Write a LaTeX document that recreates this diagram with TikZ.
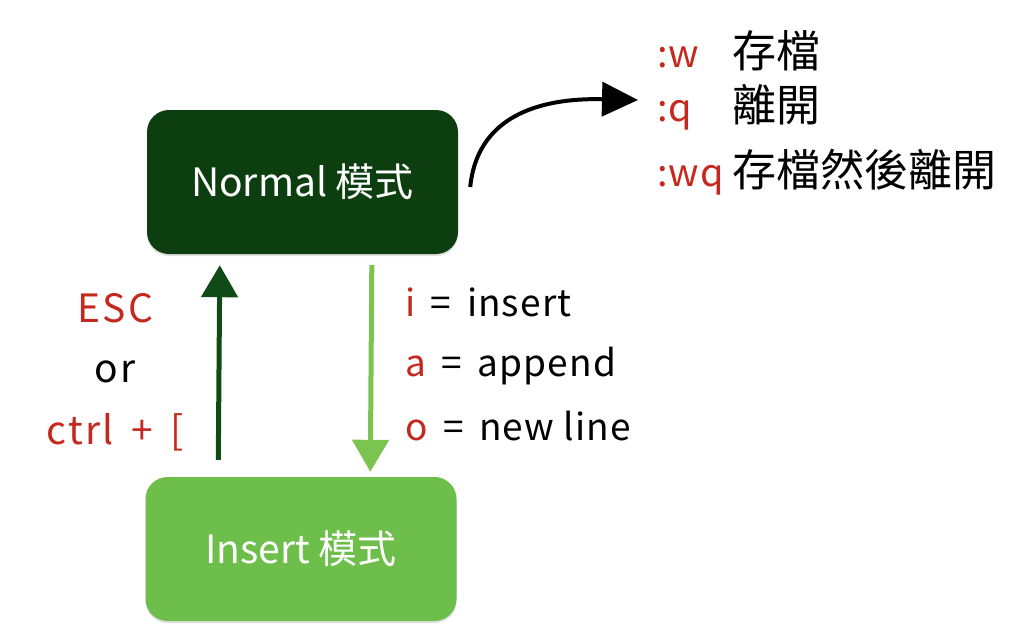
\documentclass[tikz,border=0pt]{standalone}
\usepackage{fontspec}
\setmainfont{Noto Sans CJK TC}
\newfontfamily\spaced{Noto Sans CJK TC}[LetterSpace=6]
\newfontfamily\slight{Noto Sans CJK TC}[LetterSpace=3]
\usetikzlibrary{arrows.meta,shadows,calc}
\definecolor{ngreen}{RGB}{12,62,16}
\definecolor{igreen}{RGB}{110,190,75}
\definecolor{upgreen}{RGB}{16,74,22}
\definecolor{downgreen}{RGB}{124,196,80}
\definecolor{cmdred}{RGB}{196,40,30}
\tikzset{
  modebox/.style={rounded corners=22pt, minimum width=311pt, minimum height=144pt,
    text=white, font=\fontsize{39}{42}\selectfont, inner sep=0pt,
    drop shadow={shadow xshift=0pt, shadow yshift=-2pt, opacity=0.25, fill=gray}},
  lbl/.style={font=\spaced\fontsize{39}{44}\selectfont, inner sep=0pt},
  rlbl/.style={font=\slight\fontsize{37}{44}\selectfont, inner sep=0pt},
  cmd/.style={font=\fontsize{44}{48}\selectfont, inner sep=0pt},
  uparr/.style={draw=upgreen, line width=5pt, -{Triangle[width=36pt,length=32pt]}},
  downarr/.style={draw=downgreen, line width=5pt, -{Triangle[width=36pt,length=32pt]}},
  curvarr/.style={draw=black, line width=4pt, -{Triangle[width=34pt,length=36pt]}}
}
\begin{document}
\begin{tikzpicture}[x=1pt,y=-1pt]
\useasboundingbox (0,0) rectangle (1024,638);
\node[modebox, fill=ngreen] (normal) at (302.5,182) {Normal 模式};
\node[modebox, fill=igreen] (insert) at (301,549) {Insert 模式};
% arrows between modes
\draw[uparr] ([xshift=73pt,yshift=17pt]insert.north west) -- ([xshift=73pt,yshift=-11pt]normal.south west);
\draw[downarr] ([xshift=225pt,yshift=-11pt]normal.south west) -- ([xshift=225pt,yshift=5pt]insert.north west);
% left labels
\node[lbl, text=cmdred] (esc) at (115,308) {ESC};
\node[lbl] (or) at (115,372) {or};
\node[lbl, text=cmdred] (ctrl) at (115,432) {ctrl \,+\, [};
% right labels
\node[rlbl, anchor=west] (ins) at (405,302) {\textcolor{cmdred}{i} \,=\, insert};
\node[rlbl, anchor=west] (app) at (405,366) {\textcolor{cmdred}{a} \,=\, append};
\node[rlbl, anchor=west] (nl) at (405,426) {\textcolor{cmdred}{o} \,=\, new line};
% commands top right
\node[cmd, anchor=west] (cw) at (657,51) {\makebox[75pt][l]{\slight\fontsize{38}{44}\selectfont\textcolor{cmdred}{:w}}存檔};
\node[cmd, anchor=west] (cq) at (657,107) {\makebox[75pt][l]{\slight\fontsize{38}{44}\selectfont\textcolor{cmdred}{:q}}離開};
\node[cmd, anchor=west] (cwq) at (657,172) {\makebox[75pt][l]{\slight\fontsize{38}{44}\selectfont\textcolor{cmdred}{:wq}}存檔然後離開};
\coordinate (tip) at ([xshift=-19pt,yshift=7pt]cq.west);
\draw[curvarr] ([xshift=12pt,yshift=-5pt]normal.east) .. controls (478,110) and (550,98) .. (tip);
\end{tikzpicture}
\end{document}
